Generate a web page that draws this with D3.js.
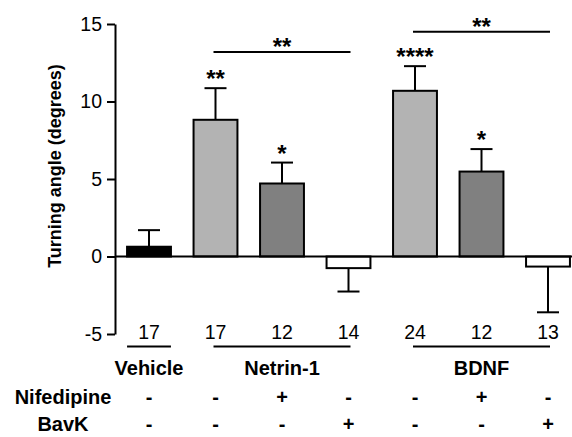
<!DOCTYPE html>
<html>
<head>
<meta charset="utf-8">
<script src="https://cdn.jsdelivr.net/npm/d3@7/dist/d3.min.js"></script>
<style>
body { margin: 0; background: #fff; }
svg { font-family: "Liberation Sans", Arial, sans-serif; }
</style>
</head>
<body>
<svg id="chart" width="572" height="437"></svg>
<script>
// data
var groups = ["Vehicle", "Netrin-1", "BDNF"];
var groupOf = [0, 1, 1, 1, 2, 2, 2];
var means = [0.63, 8.82, 4.71, -0.75, 10.69, 5.48, -0.65];
var sems = [1.07, 2.04, 1.35, 1.51, 1.59, 1.45, 2.95];
var counts = [17, 17, 12, 14, 24, 12, 13];
var nifedipine = ["-", "-", "+", "-", "-", "+", "-"];
var bavk = ["-", "-", "-", "+", "-", "-", "+"];
var stars = ["", "**", "*", "", "****", "*", ""];
var brackets = [
	{from: 1, to: 3, y: 13.2, label: "**"},
	{from: 4, to: 6, y: 14.5, label: "**"}
];
var yTicks = [-5, 0, 5, 10, 15];

var svg = d3.select("#chart");
var idx = d3.range(means.length);

var x = d3.scaleBand().domain(idx).range([115.75, 581.25]).paddingInner(0.34).paddingOuter(0.17);
var y = d3.scaleLinear().domain([-5, 15]).range([334, 24]);
var cx = function(i) { return x(i) + x.bandwidth() / 2; };

function barFill(i) {
	if (groupOf[i] == 0) return "#000";
	if (nifedipine[i] == "+") return "#808080";
	if (bavk[i] == "+") return "#fff";
	return "#b3b3b3";
}

// y axis
var yAxis = svg.append("g")
	.attr("transform", "translate(115,0)")
	.call(d3.axisLeft(y).tickValues(yTicks).tickFormat(function(d) { return String(d); })
		.tickSize(8).tickPadding(5).tickSizeOuter(0));
yAxis.select(".domain").attr("stroke-width", 2);
yAxis.selectAll(".tick line").attr("stroke-width", 2);
yAxis.selectAll(".tick text").attr("font-size", 19.5).attr("font-family", "Liberation Sans, Arial, sans-serif").attr("fill", "#000");

svg.append("text")
	.attr("transform", "translate(61," + 166 + ") rotate(-90)")
	.attr("text-anchor", "middle")
	.attr("font-size", 18)
	.attr("font-weight", "bold")
	.text("Turning angle (degrees)");

// error bars (one sided, in the direction of the bar)
var err = svg.append("g").attr("stroke", "#000").attr("stroke-width", 2);
idx.forEach(function(i) {
	var end = means[i] >= 0 ? means[i] + sems[i] : means[i] - sems[i];
	err.append("line").attr("x1", cx(i)).attr("x2", cx(i)).attr("y1", y(means[i])).attr("y2", y(end));
	err.append("line").attr("x1", cx(i) - 11).attr("x2", cx(i) + 11).attr("y1", y(end)).attr("y2", y(end));
});

// bars
svg.append("g").selectAll("rect")
	.data(idx)
	.join("rect")
	.attr("x", function(i) { return x(i); })
	.attr("width", x.bandwidth())
	.attr("y", function(i) { return y(Math.max(0, means[i])); })
	.attr("height", function(i) { return Math.abs(y(means[i]) - y(0)); })
	.attr("fill", barFill)
	.attr("stroke", "#000")
	.attr("stroke-width", 2);

// zero line
svg.append("line")
	.attr("x1", 115).attr("x2", 572)
	.attr("y1", y(0)).attr("y2", y(0))
	.attr("stroke", "#000").attr("stroke-width", 2);

// significance stars above bars
svg.append("g").selectAll("text")
	.data(idx.filter(function(i) { return stars[i] != ""; }))
	.join("text")
	.attr("x", cx)
	.attr("y", function(i) { return y(means[i] + sems[i]) - 1; })
	.attr("text-anchor", "middle")
	.attr("font-size", 24)
	.attr("font-weight", "bold")
	.text(function(i) { return stars[i]; });

// comparison brackets
brackets.forEach(function(b) {
	svg.append("line")
		.attr("x1", cx(b.from) - 2).attr("x2", cx(b.to) + 2)
		.attr("y1", y(b.y)).attr("y2", y(b.y))
		.attr("stroke", "#000").attr("stroke-width", 2);
	svg.append("text")
		.attr("x", (cx(b.from) + cx(b.to)) / 2)
		.attr("y", y(b.y) + 3)
		.attr("text-anchor", "middle")
		.attr("font-size", 24)
		.attr("font-weight", "bold")
		.text(b.label);
});

// n per condition
svg.append("g").selectAll("text")
	.data(idx)
	.join("text")
	.attr("x", cx)
	.attr("y", 339)
	.attr("text-anchor", "middle")
	.attr("font-size", 19.5)
	.text(function(i) { return counts[i]; });

// group underlines and names
groups.forEach(function(g, gi) {
	var members = idx.filter(function(i) { return groupOf[i] == gi; });
	var a = members[0], b = members[members.length - 1];
	var x1 = members.length == 1 ? x(a) : cx(a) - 2;
	var x2 = members.length == 1 ? x(a) + x.bandwidth() : cx(b) + 2;
	svg.append("line")
		.attr("x1", x1).attr("x2", x2)
		.attr("y1", 346.5).attr("y2", 346.5)
		.attr("stroke", "#000").attr("stroke-width", 2);
	svg.append("text")
		.attr("x", (x1 + x2) / 2)
		.attr("y", 375)
		.attr("text-anchor", "middle")
		.attr("font-size", 20)
		.attr("font-weight", "bold")
		.text(g);
});

// treatment rows
var rows = [{name: "Nifedipine", marks: nifedipine, y: 404}, {name: "BavK", marks: bavk, y: 431}];
rows.forEach(function(r) {
	svg.append("text")
		.attr("x", 63).attr("y", r.y)
		.attr("text-anchor", "middle")
		.attr("font-size", 20)
		.attr("font-weight", "bold")
		.text(r.name);
	svg.append("g").selectAll("text")
		.data(idx)
		.join("text")
		.attr("x", cx)
		.attr("y", r.y)
		.attr("text-anchor", "middle")
		.attr("font-size", 20)
		.attr("font-weight", "bold")
		.text(function(i) { return r.marks[i]; });
});
</script>
</body>
</html>
